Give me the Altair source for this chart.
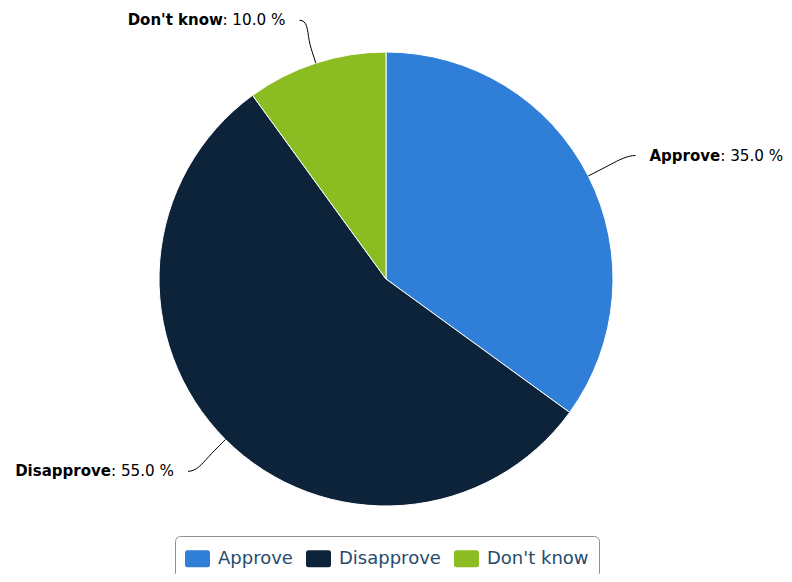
import altair as alt
import pandas as pd

# ---- data ----
categories = ["Approve", "Disapprove", "Don't know"]
shares = [35.0, 55.0, 10.0]
colors = ["#2f7ed8", "#0d233a", "#8bbc21"]

# ---- layout constants ----
W, H = 776, 566
CX, CY, R = 378, 271, 227
RX, RY = 280, 272      # label anchor radii
RB = 242               # connector break radius
GAP = 14               # gap between connector end and label text
FS = 15                # label name font size
FSV = 15.2             # label value font size

BOLD = {'A': 0.774, 'D': 0.830, 'a': 0.675, 'e': 0.678, 'i': 0.343, 'k': 0.663,
        'n': 0.712, 'o': 0.687, 'p': 0.716, 'r': 0.493, 's': 0.595, 't': 0.478,
        'v': 0.652, 'w': 0.924, "'": 0.275, ' ': 0.348}
REG = {':': 0.337, ' ': 0.318, '.': 0.318, '%': 0.950}
REG.update({d: 0.636 for d in "0123456789"})


def text_width(s, table, size):
    return sum(table.get(ch, 0.6) for ch in s) * size


vtexts = [f": {v:.1f} %" for v in shares]
df = pd.DataFrame({
    "category": categories,
    "value": shares,
    "order": list(range(len(categories))),
    "vtext": vtexts,
    "nw": [text_width(c, BOLD, FS) for c in categories],
    "vw": [text_width(t, REG, FSV) for t in vtexts],
})

base = (
    alt.Chart(df)
    .transform_joinaggregate(total="sum(value)")
    .transform_window(cum="sum(value)", sort=[alt.SortField("order", order="ascending")], frame=[None, 0])
    .transform_calculate(mid="2*PI*(datum.cum - datum.value/2)/datum.total")
    .transform_calculate(s="sin(datum.mid)", c="cos(datum.mid)")
    .transform_calculate(
        dir="datum.s >= 0 ? 1 : -1",
        ex=f"{CX} + {RX}*datum.s",
        ey=f"{CY} - {RY}*datum.c",
        edx=f"{CX} + {R}*datum.s",
        edy=f"{CY} - {R}*datum.c",
        bx=f"{CX} + {RB}*datum.s",
        by=f"{CY} - {RB}*datum.c",
    )
    .transform_calculate(
        lx=f"datum.dir > 0 ? datum.ex + {GAP} : datum.ex - {GAP} - datum.nw - datum.vw"
    )
    .transform_calculate(vx="datum.lx + datum.nw")
)

pie = alt.Chart(df).mark_arc(radius=R, stroke="white", strokeWidth=1).encode(
    theta=alt.Theta("value:Q", stack=True),
    color=alt.Color(
        "category:N",
        scale=alt.Scale(domain=categories, range=colors),
        legend=alt.Legend(
            orient="none",
            legendX=167,
            legendY=528,
            direction="horizontal",
            title=None,
            symbolType="M-0.8,-0.68H0.8Q1,-0.68 1,-0.48V0.48Q1,0.68 0.8,0.68H-0.8Q-1,0.68 -1,0.48V-0.48Q-1,-0.68 -0.8,-0.68Z",
            symbolSize=625,
            symbolStrokeWidth=0,
            symbolOpacity=1,
            labelFont="DejaVu Sans",
            labelFontSize=18,
            labelColor="#274b6d",
            labelOffset=8,
            columnPadding=13,
            padding=10,
            strokeColor="#909090",
            cornerRadius=5,
            fillColor="white",
        ),
    ),
    order=alt.Order("order:Q"),
    x=alt.value(CX),
    y=alt.value(CY),
)

conn = (
    base.transform_calculate(k="sequence(0, 12)")
    .transform_flatten(["k"])
    .transform_calculate(t="min(datum.k, 10)/10")
    .transform_calculate(
        px="datum.k == 11 ? datum.edx : pow(1-datum.t,3)*datum.ex + 3*pow(1-datum.t,2)*datum.t*(datum.ex - datum.dir*10) + 3*(1-datum.t)*datum.t*datum.t*(2*datum.bx - datum.edx) + pow(datum.t,3)*datum.bx",
        py="datum.k == 11 ? datum.edy : pow(1-datum.t,3)*datum.ey + 3*pow(1-datum.t,2)*datum.t*datum.ey + 3*(1-datum.t)*datum.t*datum.t*(2*datum.by - datum.edy) + pow(datum.t,3)*datum.by",
    )
    .mark_line(color="black", strokeWidth=1)
    .encode(
        x=alt.X("px:Q", scale=None, axis=None),
        y=alt.Y("py:Q", scale=None, axis=None),
        detail="category:N",
        order="k:Q",
    )
)

names = base.mark_text(
    align="left", baseline="middle", font="DejaVu Sans", fontSize=FS, fontWeight="bold", color="black"
).encode(
    x=alt.X("lx:Q", scale=None, axis=None),
    y=alt.Y("ey:Q", scale=None, axis=None),
    text="category:N",
)

vals = base.mark_text(
    align="left", baseline="middle", font="DejaVu Sans", fontSize=FSV, color="black"
).encode(
    x=alt.X("vx:Q", scale=None, axis=None),
    y=alt.Y("ey:Q", scale=None, axis=None),
    text="vtext:N",
)

chart = (
    alt.layer(pie, conn, names, vals)
    .properties(width=W, height=H, autosize="none", padding=0, background="white")
    .configure_view(stroke=None)
)

chart.save("out.html", embed_options={"renderer": "svg", "actions": False})
